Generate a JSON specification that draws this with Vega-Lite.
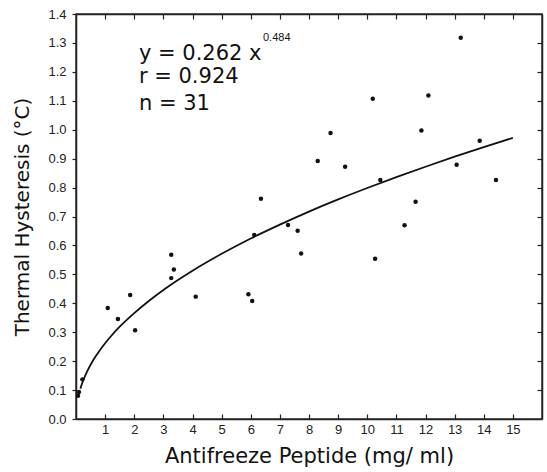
{
  "$schema": "https://vega.github.io/schema/vega-lite/v6.json",
  "width": 466,
  "height": 405,
  "autosize": "none",
  "padding": {"left": 76, "top": 14, "right": 5, "bottom": 53},
  "background": "white",
  "config": {
    "font": "Liberation Sans",
    "view": {"stroke": "#333", "strokeWidth": 1.5},
    "axis": {"grid": false, "domainColor": "#222", "domainWidth": 1.5, "tickColor": "#222", "tickWidth": 1.2, "labelColor": "#222", "titleColor": "#111", "labelFont": "Liberation Sans", "titleFont": "DejaVu Sans", "titleFontWeight": "normal"}
  },
  "datasets": {
    "pts": [
      {"c": 0.07, "h": 0.08}, {"c": 0.1, "h": 0.093}, {"c": 0.22, "h": 0.137},
      {"c": 1.09, "h": 0.384}, {"c": 1.44, "h": 0.346}, {"c": 1.86, "h": 0.429}, {"c": 2.03, "h": 0.307},
      {"c": 3.27, "h": 0.568}, {"c": 3.36, "h": 0.517}, {"c": 3.27, "h": 0.487}, {"c": 4.11, "h": 0.423},
      {"c": 5.92, "h": 0.431}, {"c": 6.05, "h": 0.408}, {"c": 6.12, "h": 0.636}, {"c": 6.35, "h": 0.761},
      {"c": 7.28, "h": 0.671}, {"c": 7.61, "h": 0.651}, {"c": 7.73, "h": 0.572},
      {"c": 8.3, "h": 0.892}, {"c": 8.74, "h": 0.989}, {"c": 9.24, "h": 0.872},
      {"c": 10.19, "h": 1.107}, {"c": 10.27, "h": 0.554}, {"c": 10.45, "h": 0.826},
      {"c": 11.28, "h": 0.67}, {"c": 11.66, "h": 0.751}, {"c": 11.86, "h": 0.997}, {"c": 12.1, "h": 1.118},
      {"c": 13.07, "h": 0.879}, {"c": 13.21, "h": 1.318}, {"c": 13.86, "h": 0.962}, {"c": 14.42, "h": 0.826}
    ],
    "fit": [
      {"c": 0.15, "h": 0.105}, {"c": 0.2, "h": 0.12}, {"c": 0.3, "h": 0.146}, {"c": 0.4, "h": 0.168},
      {"c": 0.6, "h": 0.205}, {"c": 0.8, "h": 0.235}, {"c": 1.0, "h": 0.262}, {"c": 1.2, "h": 0.286},
      {"c": 1.5, "h": 0.319}, {"c": 2.0, "h": 0.366}, {"c": 2.5, "h": 0.408}, {"c": 3.0, "h": 0.446},
      {"c": 4.0, "h": 0.5125}, {"c": 5.0, "h": 0.571}, {"c": 6.0, "h": 0.624}, {"c": 7.0, "h": 0.672},
      {"c": 8.0, "h": 0.717}, {"c": 9.0, "h": 0.759}, {"c": 10.0, "h": 0.7985}, {"c": 11.0, "h": 0.836},
      {"c": 12.0, "h": 0.872}, {"c": 13.0, "h": 0.907}, {"c": 14.0, "h": 0.94}, {"c": 15.0, "h": 0.972}
    ],
    "ann": [
      {"c": 2.16, "h": 1.241, "t": "y = 0.262 x"},
      {"c": 2.16, "h": 1.161, "t": "r = 0.924"},
      {"c": 2.16, "h": 1.068, "t": "n = 31"}
    ],
    "sup": [
      {"c": 6.42, "h": 1.305, "t": "0.484"}
    ]
  },
  "layer": [
    {
      "data": {"name": "fit"},
      "mark": {"type": "line", "color": "#111", "strokeWidth": 1.8, "interpolate": "monotone"},
      "encoding": {
        "x": {"field": "c", "type": "quantitative", "scale": {"domain": [0, 16], "nice": false},
          "axis": {"orient": "bottom", "values": [1,2,3,4,5,6,7,8,9,10,11,12,13,14,15], "tickSize": -5, "labelPadding": 9, "labelFontSize": 13, "title": "Antifreeze Peptide (mg/ ml)", "titleFontSize": 21, "titlePadding": 9}},
        "y": {"field": "h", "type": "quantitative", "scale": {"domain": [0, 1.4], "nice": false},
          "axis": {"orient": "left", "values": [0,0.1,0.2,0.3,0.4,0.5,0.6,0.7,0.8,0.9,1.0,1.1,1.2,1.3,1.4], "format": ".1f", "tickSize": 4, "labelPadding": 6, "labelFontSize": 13, "title": "Thermal Hysteresis (°C)", "titleFontSize": 20, "titlePadding": 15}}
      }
    },
    {
      "data": {"name": "pts"},
      "mark": {"type": "circle", "color": "#111", "size": 20, "opacity": 1},
      "encoding": {
        "x": {"field": "c", "type": "quantitative",
          "axis": {"orient": "top", "values": [1,2,3,4,5,6,7,8,9,10,11,12,13,14,15], "tickSize": -5, "labels": false, "title": null}},
        "y": {"field": "h", "type": "quantitative",
          "axis": {"orient": "right", "values": [0.1,0.2,0.3,0.4,0.5,0.6,0.7,0.8,0.9,1.0,1.1,1.2,1.3], "tickSize": -5, "labels": false, "title": null}}
      }
    },
    {
      "data": {"name": "ann"},
      "mark": {"type": "text", "align": "left", "baseline": "alphabetic", "fontSize": 21, "font": "DejaVu Sans", "color": "#111"},
      "encoding": {
        "x": {"field": "c", "type": "quantitative", "axis": null},
        "y": {"field": "h", "type": "quantitative", "axis": null},
        "text": {"field": "t"}
      }
    },
    {
      "data": {"name": "sup"},
      "mark": {"type": "text", "align": "left", "baseline": "alphabetic", "fontSize": 11, "font": "Liberation Sans", "color": "#111"},
      "encoding": {
        "x": {"field": "c", "type": "quantitative", "axis": null},
        "y": {"field": "h", "type": "quantitative", "axis": null},
        "text": {"field": "t"}
      }
    }
  ],
  "resolve": {"axis": {"x": "independent", "y": "independent"}}
}
